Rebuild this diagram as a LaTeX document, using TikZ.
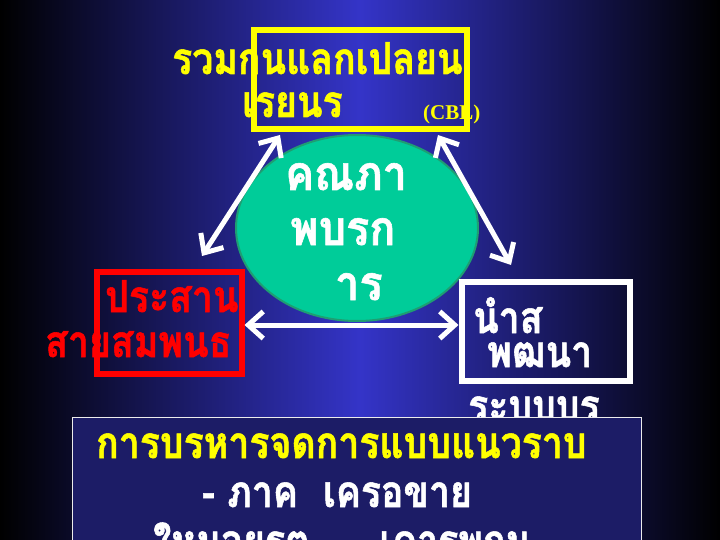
\documentclass[tikz,border=0pt]{standalone}
\usepackage{fontspec}
\usetikzlibrary{arrows.meta,shapes.geometric,calc}
\newfontfamily\thaiA[Script=Thai, UprightFont={* Bold}, FakeStretch=0.85, FakeBold=1.2]{Loma}
\newfontfamily\thaiG[Script=Thai, UprightFont={* Bold}, FakeStretch=0.9, FakeBold=1.2]{Loma}
\setmainfont{Liberation Serif}
\definecolor{bgblue}{HTML}{3434C8}
\definecolor{navy}{HTML}{1C1C66}
\definecolor{teal}{HTML}{00CC99}
\definecolor{tealedge}{HTML}{1E9E72}
\definecolor{yel}{HTML}{FFFF00}
\tikzset{
  th/.style={anchor=base west, inner sep=0pt, font=\thaiA\fontsize{44}{44}\selectfont},
  thw/.style={th, text=white},
  thy/.style={th, text=yel},
  thr/.style={th, text=red},
  thg/.style={anchor=base west, inner sep=0pt, text=white, font=\thaiG\fontsize{48}{48}\selectfont},
  dbl/.style={draw=white, line width=5pt, {Straight Barb[length=15pt,width=27pt]}-{Straight Barb[length=15pt,width=27pt]}},
}
\begin{document}
\begin{tikzpicture}[x=1pt,y=-1pt]
\useasboundingbox (0,0) rectangle (720,540);
\clip (0,0) rectangle (720,540);
\shade[left color=black, right color=black, middle color=bgblue] (0,0) rectangle (720,540);
% top yellow group
\node[thy] (y1) at (172,74) {รวมกนแลกเปลยน};
\node[thy] (y2) at (242,117) {เรยนร};
\node[anchor=base west, inner sep=0pt, text=yel, font=\bfseries\fontsize{21}{21}\selectfont] (cbl) at (423,120) {(CBL)};
\node[draw=yel, line width=6pt, minimum width=213.5pt, minimum height=99pt, inner sep=0pt] (ybox) at (360.25,79.5) {};
% green ellipse
\node[ellipse, fill=teal, draw=tealedge, line width=2pt, minimum width=242pt, minimum height=186pt, inner sep=0pt] (ell) at (357,228) {};
\node[thg] (g1) at (285,190) {คณภา};
\node[thg] (g2) at (290,245) {พบรก};
\node[thg] (g3) at (335,300) {าร};
% red group
\node[thr] (r1) at (105,312) {ประสาน};
\node[thr] (r2) at (45,357) {สายสมพนธ};
\node[draw=red, line width=6pt, minimum width=145pt, minimum height=102pt, inner sep=0pt] (rbox) at (169,322.5) {};
% white group
\node[thw] (w1) at (473,333) {นำส};
\node[thw] (w2) at (487,367) {พฒนา};
\node[thw] (w3) at (468,421) {ระบบบร};
\node[draw=white, line width=6pt, minimum width=168.5pt, minimum height=99pt, inner sep=0pt] (wbox) at (545.75,331) {};
% arrows
\coordinate (a1t) at (280,135);
\coordinate (a1b) at (202,256);
\coordinate (a2t) at (438,135);
\coordinate (a2b) at (511,265);
\coordinate (hy) at (0,325);
\draw[dbl] (a1t) -- (a1b);
\draw[dbl] (a2t) -- (a2b);
\draw[dbl] (rbox.east |- hy) -- (wbox.west |- hy);
% bottom box
\node[fill=navy, draw=white!85!gray, line width=1.2pt, minimum width=569pt, minimum height=160pt, inner sep=0pt, anchor=north west] (bbox) at (72,417) {};
\node[thy] (b1) at (96,458) {การบรหารจดการแบบแนวราบ};
\node[thw] (b2) at (202,507) {- ภาค\ \ เครอขาย};
\node[thw] (b3) at (153,556) {ใหมอยรต\hspace{70pt}เคารพกน};
\end{tikzpicture}
\end{document}
